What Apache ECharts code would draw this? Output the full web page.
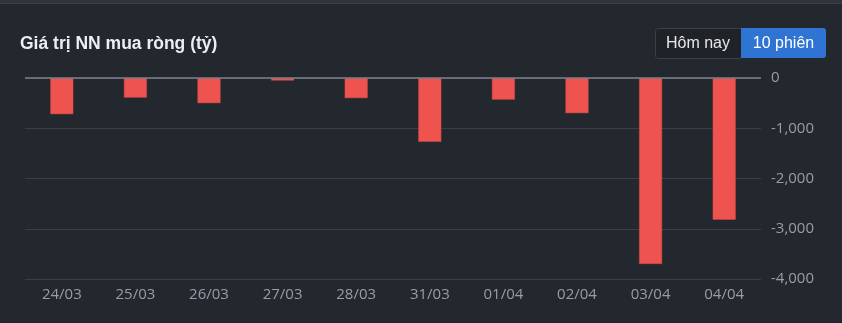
<!DOCTYPE html>
<html><head><meta charset="utf-8">
<script src="https://cdn.jsdelivr.net/npm/echarts@6/dist/echarts.min.js"></script>
<style>html,body{margin:0;padding:0;background:#23272e;}#c{width:842px;height:323px;}</style>
</head><body><div id="c"></div>
<script>
const categories = ['24/03','25/03','26/03','27/03','28/03','31/03','01/04','02/04','03/04','04/04'];
const netBuy = [-720,-390,-500,-50,-400,-1270,-430,-700,-3700,-2820];
const yTicks = {min:-4000, max:0, interval:1000};
const titleText = 'Giá trị NN mua ròng (tỷ)';
const buttonLabels = ['Hôm nay','10 phiên'];

const chart = echarts.init(document.getElementById('c'));
chart.setOption({
  backgroundColor:'#23272e',
  animation:false,
  graphic:[
    {type:'rect',left:0,top:0,shape:{width:842,height:3},style:{fill:'#30333a'}},
    {type:'rect',left:0,top:3,shape:{width:842,height:1},style:{fill:'#3b3e45'}},
    {type:'text',x:20,y:44,style:{text:titleText,fill:'#eceef1',fontSize:17.5,fontWeight:'bold',fontFamily:'Liberation Sans',align:'left',verticalAlign:'middle'}},
    {type:'rect',left:655,top:28,shape:{width:86,height:30,r:[3,0,0,3]},style:{fill:'#1f2328',stroke:'#3a3e46',lineWidth:1}},
    {type:'rect',left:741,top:28,shape:{width:85,height:30,r:[0,3,3,0]},style:{fill:'#2f74d3'}},
    {type:'text',x:698,y:43.5,style:{text:buttonLabels[0],fill:'#e6e8ec',fontSize:16,fontFamily:'Liberation Sans',align:'center',verticalAlign:'middle'}},
    {type:'text',x:783.5,y:43.5,style:{text:buttonLabels[1],fill:'#ffffff',fontSize:16,fontFamily:'Liberation Sans',align:'center',verticalAlign:'middle'}}
  ],
  grid:{left:25,right:81,top:78,bottom:44,containLabel:false},
  xAxis:{type:'category',data:categories,
    axisLine:{show:false},axisTick:{show:false},
    axisLabel:{color:'#9a9ca6',fontSize:15,margin:8,fontFamily:'Open Sans'}},
  yAxis:{type:'value',position:'right',min:yTicks.min,max:yTicks.max,interval:yTicks.interval,
    axisLine:{show:false},axisTick:{show:false},
    axisLabel:{color:'#9a9ca6',fontSize:15,margin:10,fontFamily:'Open Sans',
      formatter:v=>v.toLocaleString('en-US')},
    splitLine:{lineStyle:{color:'#3a3e46',width:1}}},
  series:[{type:'bar',data:netBuy,barWidth:23,
    itemStyle:{color:'#ef5350',borderColor:'#d84845',borderWidth:0.5},
    markLine:{silent:true,symbol:'none',label:{show:false},
      lineStyle:{color:'#7c808b',width:1.5,type:'solid'},data:[{yAxis:0}]}}]
});
</script></body></html>
